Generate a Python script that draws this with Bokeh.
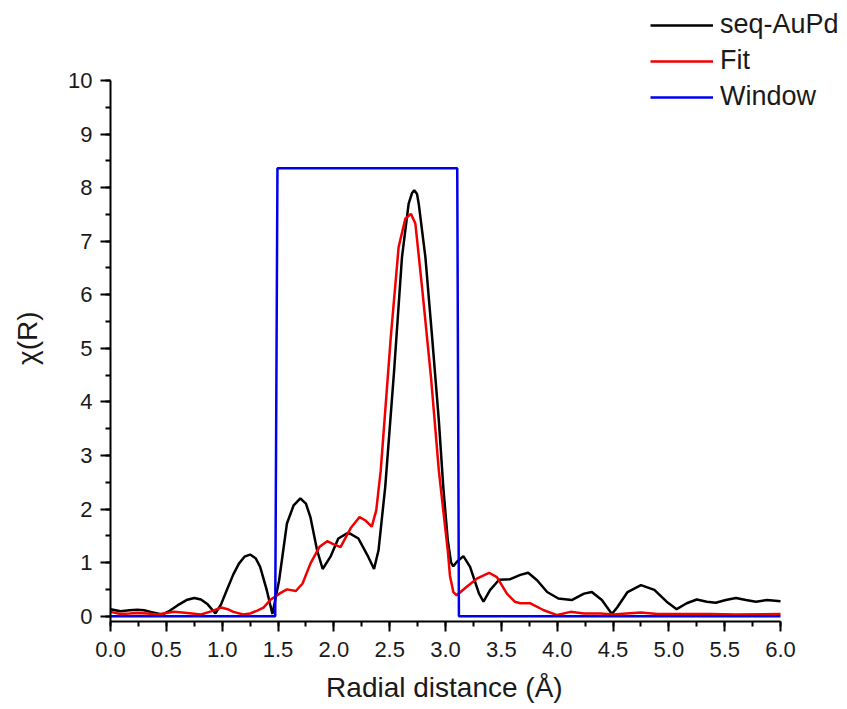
from bokeh.plotting import figure
from bokeh.models import Legend, LegendItem, SingleIntervalTicker, NumeralTickFormatter, Range1d
from bokeh.embed import file_html
from bokeh.resources import INLINE

r_data = [0, 0.09, 0.17, 0.24, 0.30, 0.36, 0.46, 0.53, 0.60, 0.68, 0.75, 0.81, 0.87, 0.94, 0.99,
          1.04, 1.10, 1.15, 1.20, 1.25, 1.30, 1.34, 1.40, 1.45, 1.51, 1.58, 1.64, 1.70, 1.75, 1.79,
          1.85, 1.90, 1.97, 2.04, 2.13, 2.22, 2.30, 2.36, 2.40, 2.46, 2.54, 2.61, 2.67, 2.70, 2.72,
          2.745, 2.76, 2.82, 2.88, 2.94, 2.98, 3.02, 3.05, 3.07, 3.10, 3.16, 3.22, 3.30, 3.34, 3.40,
          3.48, 3.58, 3.67, 3.74, 3.82, 3.91, 4.01, 4.13, 4.24, 4.31, 4.40, 4.49, 4.54, 4.63, 4.75,
          4.87, 4.98, 5.07, 5.16, 5.25, 5.34, 5.42, 5.51, 5.60, 5.69, 5.78, 5.88, 6.0]
chi_data = [0.13, 0.09, 0.11, 0.12, 0.11, 0.08, 0.03, 0.10, 0.20, 0.30, 0.34, 0.31, 0.22, 0.05, 0.22,
            0.48, 0.78, 0.98, 1.11, 1.15, 1.08, 0.92, 0.48, 0.04, 0.67, 1.73, 2.07, 2.20, 2.10, 1.85,
            1.23, 0.88, 1.11, 1.45, 1.56, 1.45, 1.14, 0.88, 1.23, 2.41, 4.59, 6.70, 7.70, 7.90, 7.95,
            7.88, 7.70, 6.70, 5.21, 3.66, 2.41, 1.42, 1.00, 0.93, 1.01, 1.12, 0.92, 0.42, 0.27, 0.49,
            0.68, 0.69, 0.77, 0.81, 0.67, 0.45, 0.33, 0.30, 0.42, 0.45, 0.30, 0.04, 0.17, 0.45, 0.58,
            0.49, 0.27, 0.13, 0.24, 0.31, 0.27, 0.25, 0.30, 0.34, 0.30, 0.27, 0.30, 0.28]

r_fit = [0, 0.09, 0.17, 0.24, 0.33, 0.42, 0.50, 0.57, 0.69, 0.81, 0.90, 0.99, 1.05, 1.10, 1.19,
         1.25, 1.31, 1.37, 1.43, 1.52, 1.58, 1.66, 1.72, 1.79, 1.87, 1.94, 2.00, 2.06, 2.15, 2.23,
         2.28, 2.34, 2.38, 2.42, 2.51, 2.58, 2.64, 2.69, 2.73, 2.79, 2.87, 2.94, 3.00, 3.02, 3.04,
         3.07, 3.10, 3.19, 3.28, 3.39, 3.46, 3.55, 3.62, 3.67, 3.76, 3.88, 4.00, 4.12, 4.24, 4.39,
         4.50, 4.62, 4.75, 4.90, 5.07, 5.37, 5.60, 6.0]
chi_fit = [0.08, 0.04, 0.05, 0.06, 0.05, 0.03, 0.06, 0.08, 0.06, 0.03, 0.09, 0.16, 0.13, 0.08, 0.03,
           0.05, 0.10, 0.16, 0.30, 0.43, 0.50, 0.47, 0.61, 0.98, 1.29, 1.40, 1.34, 1.29, 1.64, 1.85,
           1.79, 1.67, 1.98, 2.72, 5.21, 6.89, 7.42, 7.51, 7.33, 6.14, 4.46, 2.72, 1.60, 1.23, 0.75,
           0.45, 0.39, 0.55, 0.70, 0.81, 0.73, 0.42, 0.27, 0.24, 0.24, 0.11, 0.02, 0.08, 0.05, 0.05,
           0.03, 0.05, 0.07, 0.04, 0.04, 0.04, 0.03, 0.04]

r_window = [0, 1.475, 1.495, 3.105, 3.12, 6.0]
w_window = [0, 0, 8.36, 8.36, 0, 0]

x_label = "Radial distance (Å)"
y_label = "χ(R)"

FONT = "Liberation Sans"
TEXT = "#1a1a1a"
NBSP = "\u00a0"

# frame extends beyond the drawn axes (axes limited with bounds) so the legend fits
p = figure(width=840, height=708, output_backend="svg", toolbar_location=None,
           x_range=Range1d(0, 6.537), y_range=Range1d(-0.1, 11.494),
           min_border_left=110, min_border_right=0, min_border_top=0, min_border_bottom=87)
p.outline_line_color = None
p.grid.visible = False
p.background_fill_color = "white"
p.border_fill_color = "white"

l1 = p.line(r_data, chi_data, line_color="black", line_width=2.5)
l2 = p.line(r_fit, chi_fit, line_color="#f00000", line_width=2.5)
l3 = p.line(r_window, w_window, line_color="#0000f0", line_width=2.5)

p.xaxis.ticker = SingleIntervalTicker(interval=0.5, num_minor_ticks=2)
p.yaxis.ticker = SingleIntervalTicker(interval=1, num_minor_ticks=2)
p.xaxis.formatter = NumeralTickFormatter(format="0.0")
p.yaxis.formatter = NumeralTickFormatter(format="0")
p.xaxis.bounds = (0, 6)
p.yaxis.bounds = (-0.1, 10)
for ax in (p.xaxis, p.yaxis):
    ax.axis_line_width = 2
    ax.major_tick_line_width = 2
    ax.minor_tick_line_width = 2
    ax.major_tick_out = 10
    ax.major_tick_in = 0
    ax.minor_tick_out = 5
    ax.minor_tick_in = 0
    ax.major_label_text_font = FONT
    ax.major_label_text_font_size = "22px"
    ax.major_label_text_color = TEXT
    ax.axis_label_text_font = FONT
    ax.axis_label_text_font_size = "28px"
    ax.axis_label_text_font_style = "normal"
    ax.axis_label_text_color = TEXT
# trailing non-breaking spaces re-centre the labels on the drawn axes (frame is wider/taller)
p.xaxis.axis_label = x_label + NBSP * 8
p.yaxis.axis_label = y_label + NBSP * 7
p.xaxis.major_label_standoff = 10
p.yaxis.major_label_standoff = 8
p.xaxis.axis_label_standoff = 12
p.yaxis.axis_label_standoff = 22

legend = Legend(items=[LegendItem(label="seq-AuPd", renderers=[l1]),
                       LegendItem(label="Fit", renderers=[l2]),
                       LegendItem(label="Window", renderers=[l3])],
                location=(540, 509))
legend.border_line_color = None
legend.background_fill_alpha = 0
legend.padding = 0
legend.margin = 0
legend.spacing = 5
legend.glyph_width = 63
legend.glyph_height = 30
legend.label_height = 30
legend.label_standoff = 7
legend.label_text_font = FONT
legend.label_text_font_size = "27px"
legend.label_text_color = TEXT
p.add_layout(legend, "center")

open("out.html", "w").write(file_html(p, INLINE))
